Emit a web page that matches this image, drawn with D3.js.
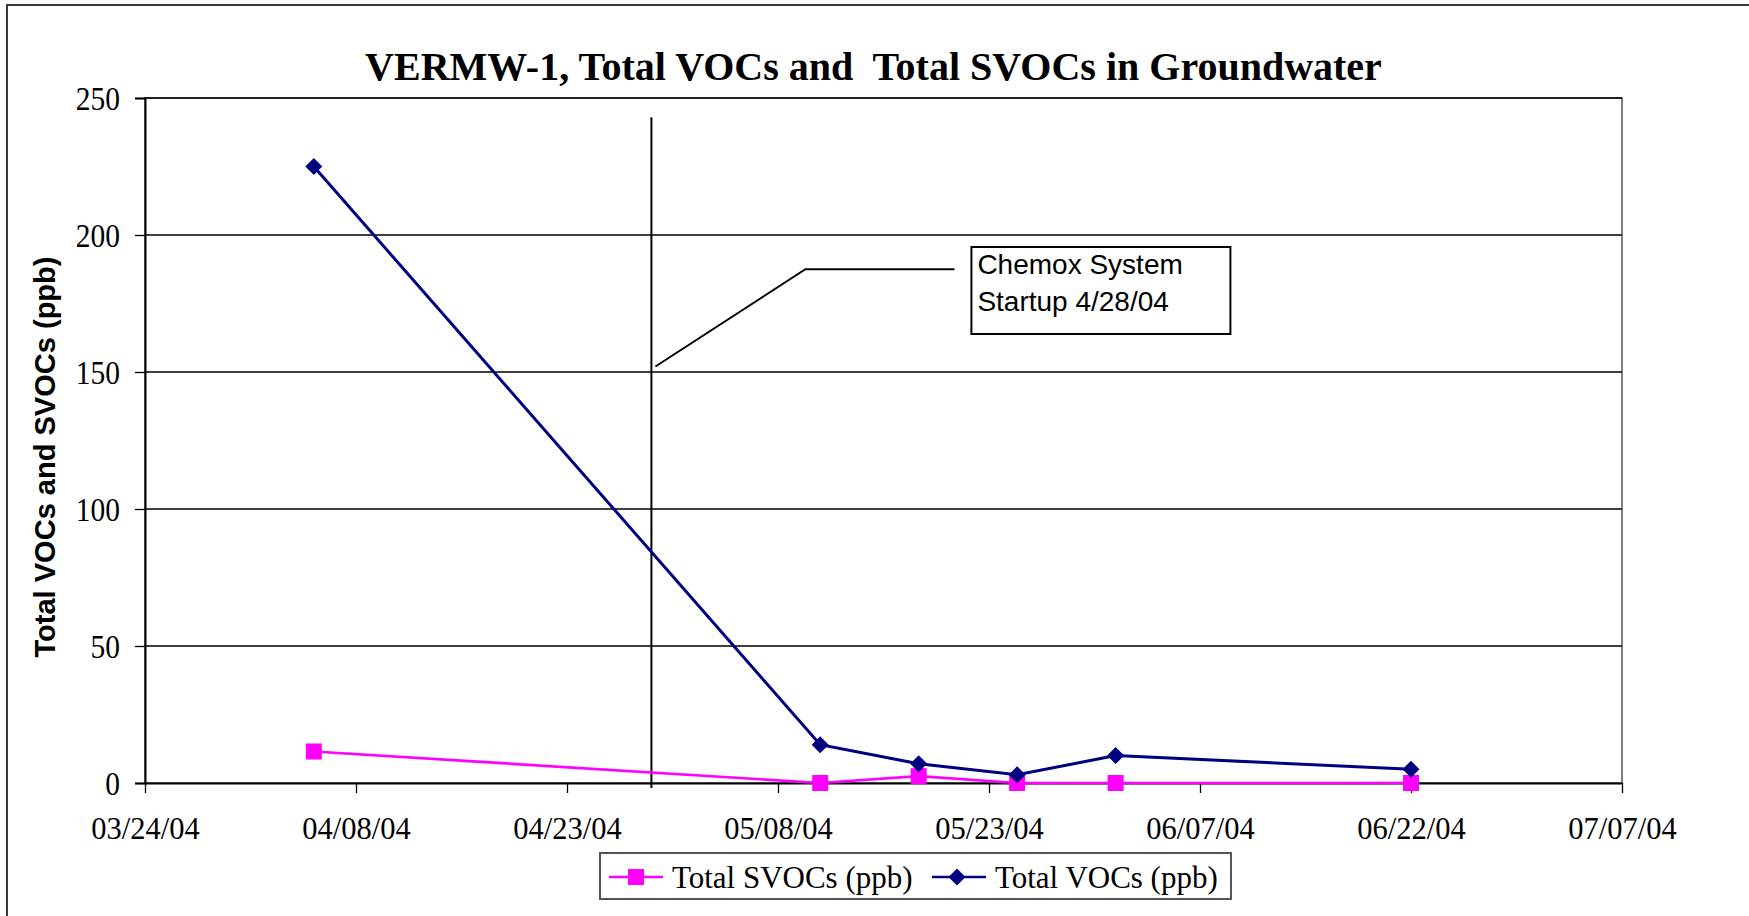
<!DOCTYPE html>
<html>
<head>
<meta charset="utf-8">
<script src="https://cdn.jsdelivr.net/npm/d3@7"></script>
<style>
  body { margin: 0; background: #fff; }
  svg text { white-space: pre; }
</style>
</head>
<body>
<div id="chart"></div>
<script>
// chart data
const sampleDates = ['04/05/04', '05/11/04', '05/18/04', '05/25/04', '06/01/04', '06/22/04'];
const totalVOCs = [225, 14, 7, 3, 10, 5];
const totalSVOCs = [11.5, 0, 2.5, 0, 0, 0];
const xTickLabels = ['03/24/04', '04/08/04', '04/23/04', '05/08/04', '05/23/04', '06/07/04', '06/22/04', '07/07/04'];
const yTicks = [0, 50, 100, 150, 200, 250];
const startupDate = '04/29/04';
const calloutLines = ['Chemox System', 'Startup 4/28/04'];

const W = 1749, H = 916;
const margin = { top: 98, right: 127, bottom: 133, left: 145 };
const serif = '"Liberation Serif", "Times New Roman", serif';
const sans = '"Liberation Sans", Arial, sans-serif';
const parse = d3.utcParse('%m/%d/%y');

const svg = d3.select('#chart')
  .append('svg')
  .attr('width', W)
  .attr('height', H);

// outer chart border (runs off the page on right / bottom)
svg.append('rect')
  .attr('x', 7).attr('y', 5)
  .attr('width', 1800).attr('height', 1000)
  .attr('fill', '#fff')
  .attr('stroke', '#3a3a3a')
  .attr('stroke-width', 2);

const x = d3.scaleUtc()
  .domain([parse(xTickLabels[0]), parse(xTickLabels[xTickLabels.length - 1])])
  .range([margin.left, W - margin.right]);

const y = d3.scaleLinear()
  .domain([0, 250])
  .range([H - margin.bottom, margin.top]);

// title
svg.append('text')
  .attr('x', 873.5)
  .attr('y', 80)
  .attr('text-anchor', 'middle')
  .style('font-family', serif)
  .style('font-weight', 'bold')
  .style('font-size', '40px')
  .text('VERMW-1, Total VOCs and  Total SVOCs in Groundwater');

// plot area border
svg.append('rect')
  .attr('x', x.range()[0]).attr('y', y(250))
  .attr('width', x.range()[1] - x.range()[0])
  .attr('height', y(0) - y(250))
  .attr('fill', 'none')
  .attr('stroke', '#808080')
  .attr('stroke-width', 2);

// gridlines
svg.append('g')
  .selectAll('line')
  .data(yTicks.filter(d => d > 0))
  .join('line')
  .attr('x1', x.range()[0]).attr('x2', x.range()[1])
  .attr('y1', d => y(d)).attr('y2', d => y(d))
  .attr('stroke', '#000')
  .attr('stroke-width', 1.3);

// y axis
const yAxis = svg.append('g')
  .attr('transform', `translate(${margin.left},0)`)
  .call(d3.axisLeft(y).tickValues(yTicks).tickSize(10).tickPadding(15).tickFormat(d3.format('d')));
yAxis.select('.domain').attr('stroke', '#000').attr('stroke-width', 2);
yAxis.selectAll('.tick line').attr('stroke', '#000').attr('stroke-width', 1.3);
yAxis.selectAll('.tick text')
  .style('font-family', serif)
  .style('font-size', '29.5px')
  .attr('fill', '#000')
  .attr('dy', '0.34em')
  .attr('transform', 'scale(1,1.12)');

// x axis
const xAxis = svg.append('g')
  .attr('transform', `translate(0,${y(0)})`)
  .call(d3.axisBottom(x)
    .tickValues(xTickLabels.map(parse))
    .tickSize(10)
    .tickPadding(24)
    .tickSizeOuter(0)
    .tickFormat(d3.utcFormat('%m/%d/%y')));
xAxis.select('.domain').attr('stroke', '#000').attr('stroke-width', 2);
xAxis.selectAll('.tick line').attr('stroke', '#000').attr('stroke-width', 1.3);
xAxis.selectAll('.tick text')
  .style('font-family', serif)
  .style('font-size', '30.5px')
  .attr('fill', '#000');

// y axis label
svg.append('text')
  .attr('transform', `translate(55,457) rotate(-90)`)
  .attr('text-anchor', 'middle')
  .attr('textLength', 401)
  .attr('lengthAdjust', 'spacingAndGlyphs')
  .style('font-family', sans)
  .style('font-weight', 'bold')
  .style('font-size', '30px')
  .text('Total VOCs and SVOCs (ppb)');

// startup vertical line
const xs = x(parse(startupDate));
svg.append('line')
  .attr('x1', xs).attr('x2', xs)
  .attr('y1', y(243)).attr('y2', y(0) + 5)
  .attr('stroke', '#000')
  .attr('stroke-width', 2);

// callout leader + box
svg.append('polyline')
  .attr('points', `${xs + 4},${y(152)} ${xs + 154},${y(187.5)} ${xs + 303},${y(187.5)}`)
  .attr('fill', 'none')
  .attr('stroke', '#000')
  .attr('stroke-width', 2);

svg.append('rect')
  .attr('x', xs + 320).attr('y', 247)
  .attr('width', 259).attr('height', 87)
  .attr('fill', '#fff')
  .attr('stroke', '#000')
  .attr('stroke-width', 2);

svg.append('g')
  .selectAll('text')
  .data(calloutLines)
  .join('text')
  .attr('x', xs + 326)
  .attr('y', (d, i) => 274 + i * 37)
  .style('font-family', sans)
  .style('font-size', '28px')
  .text(d => d);

// series
const svocData = sampleDates.map((d, i) => ({ date: parse(d), value: totalSVOCs[i] }));
const vocData = sampleDates.map((d, i) => ({ date: parse(d), value: totalVOCs[i] }));
const line = d3.line().x(d => x(d.date)).y(d => y(d.value));

svg.append('path')
  .datum(svocData)
  .attr('d', line)
  .attr('fill', 'none')
  .attr('stroke', '#ff00ff')
  .attr('stroke-width', 2.7);

const sq = 16;
svg.append('g')
  .selectAll('rect')
  .data(svocData)
  .join('rect')
  .attr('x', d => x(d.date) - sq / 2)
  .attr('y', d => y(d.value) - sq / 2)
  .attr('width', sq).attr('height', sq)
  .attr('fill', '#ff00ff');

svg.append('path')
  .datum(vocData)
  .attr('d', line)
  .attr('fill', 'none')
  .attr('stroke', '#000080')
  .attr('stroke-width', 3);

const diamond = 'M0,-8.5L8.5,0L0,8.5L-8.5,0Z';
svg.append('g')
  .selectAll('path')
  .data(vocData)
  .join('path')
  .attr('d', diamond)
  .attr('transform', d => `translate(${x(d.date)},${y(d.value)})`)
  .attr('fill', '#000080');

// legend
const legend = svg.append('g').attr('transform', 'translate(600,853)');
legend.append('rect')
  .attr('width', 631).attr('height', 46)
  .attr('fill', '#fff')
  .attr('stroke', '#555')
  .attr('stroke-width', 2);

const legendItems = [
  { label: 'Total SVOCs (ppb)', color: '#ff00ff', shape: 'square', x0: 9 },
  { label: 'Total VOCs (ppb)', color: '#000080', shape: 'diamond', x0: 332 },
];
legendItems.forEach(it => {
  const g = legend.append('g').attr('transform', `translate(${it.x0},24)`);
  g.append('line')
    .attr('x1', 0).attr('x2', 54)
    .attr('stroke', it.color).attr('stroke-width', 2.7);
  if (it.shape === 'square') {
    g.append('rect').attr('x', 27 - sq / 2).attr('y', -sq / 2)
      .attr('width', sq).attr('height', sq).attr('fill', it.color);
  } else {
    g.append('path').attr('d', diamond)
      .attr('transform', 'translate(25,0)').attr('fill', it.color);
  }
  g.append('text')
    .attr('x', 63).attr('y', 10)
    .attr('transform', 'scale(1,1.05)')
    .style('font-family', serif)
    .style('font-size', '31px')
    .text(it.label);
});
</script>
</body>
</html>
